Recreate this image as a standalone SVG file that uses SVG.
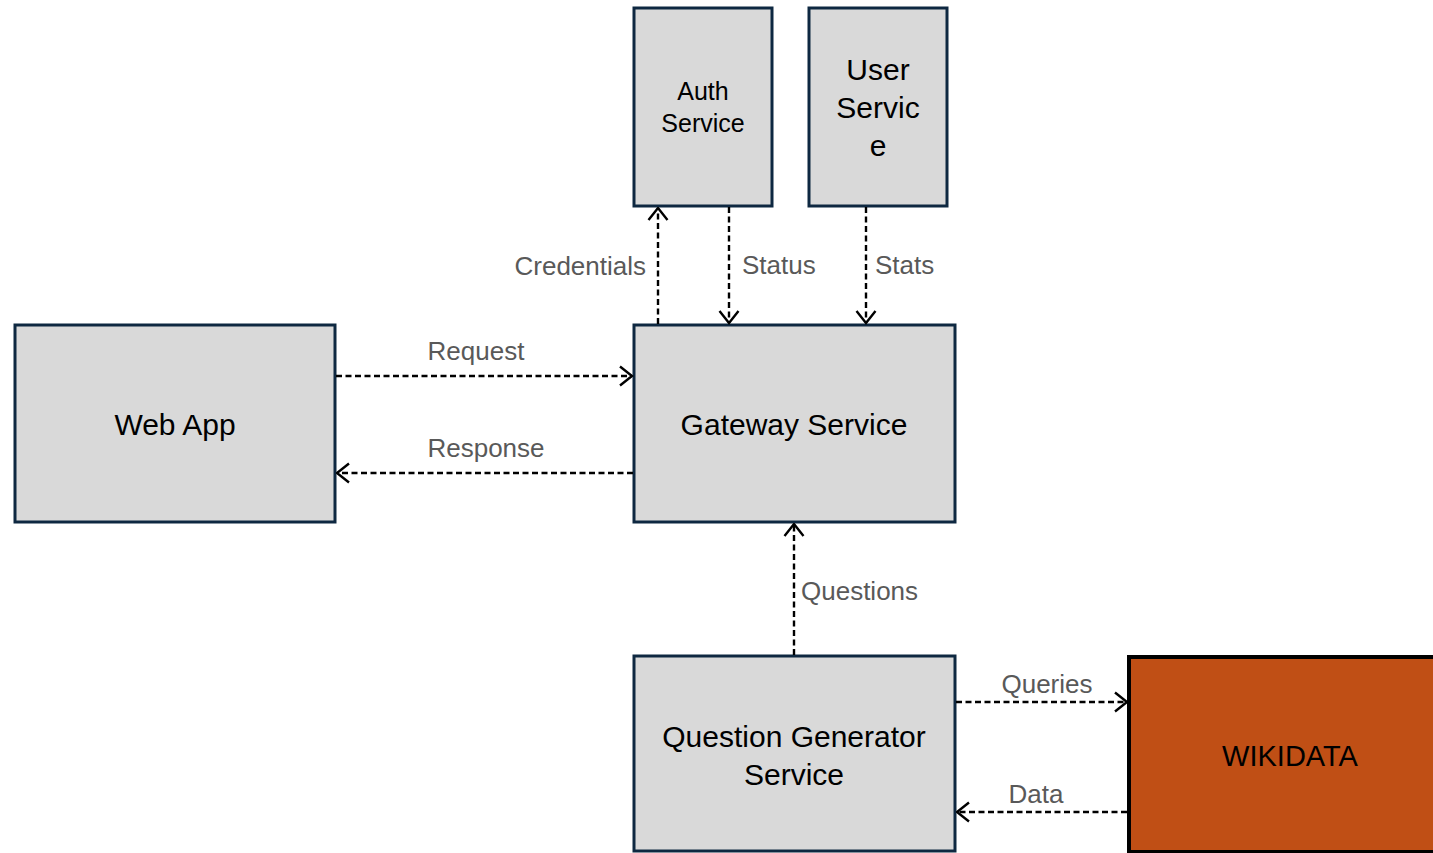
<svg xmlns="http://www.w3.org/2000/svg" width="1433" height="853" viewBox="0 0 1433 853">
<defs>
<style>
.box{fill:#d9d9d9;stroke:#0e2841;stroke-width:3}
.wk{fill:#c04f15;stroke:#000;stroke-width:4}
.t{font-family:"Liberation Sans",Arial,sans-serif;fill:#000;text-anchor:middle}
.lbl{font-family:"Liberation Sans",Arial,sans-serif;fill:#595959;font-size:26px}
.c{fill:none;stroke:#000;stroke-width:2.4;stroke-dasharray:6 3.5}
</style>
<marker id="ah" viewBox="0 0 15 22" refX="13.5" refY="11" markerWidth="15" markerHeight="22" markerUnits="userSpaceOnUse" orient="auto">
<path d="M1.5,1.5 L13.5,11 L1.5,20.5" fill="none" stroke="#000" stroke-width="2.4"/>
</marker>
</defs>
<rect width="1433" height="853" fill="#fff"/>
<g id="auth"><rect class="box" x="634" y="8" width="138" height="198"/><text class="t" font-size="25" x="703" y="100">Auth</text><text class="t" font-size="25" x="703" y="132">Service</text></g>
<g id="user"><rect class="box" x="809" y="8" width="138" height="198"/><text class="t" font-size="30" x="878" y="80">User</text><text class="t" font-size="30" x="878" y="118">Servic</text><text class="t" font-size="30" x="878" y="156">e</text></g>
<g id="webapp"><rect class="box" x="15" y="325" width="320" height="197"/><text class="t" font-size="30" x="175" y="435">Web App</text></g>
<g id="gateway"><rect class="box" x="634" y="325" width="321" height="197"/><text class="t" font-size="30" x="794" y="435">Gateway Service</text></g>
<g id="qgs"><rect class="box" x="634" y="656" width="321" height="195"/><text class="t" font-size="30" x="794" y="747">Question Generator</text><text class="t" font-size="30" x="794" y="785">Service</text></g>
<g id="wikidata"><rect class="wk" x="1129" y="657" width="310" height="195"/><text class="t" font-size="29" x="1290" y="766">WIKIDATA</text></g>
<g id="connectors">
<path class="c" d="M658,324 V208" marker-end="url(#ah)"/>
<path class="c" d="M729,207 V323" marker-end="url(#ah)"/>
<path class="c" d="M866,207 V323" marker-end="url(#ah)"/>
<path class="c" d="M336,376 H632" marker-end="url(#ah)"/>
<path class="c" d="M633,473 H337" marker-end="url(#ah)"/>
<path class="c" d="M794,655 V524" marker-end="url(#ah)"/>
<path class="c" d="M956,702 H1127" marker-end="url(#ah)"/>
<path class="c" d="M1127,812 H957" marker-end="url(#ah)"/>
<text class="lbl" x="646" y="275" text-anchor="end">Credentials</text>
<text class="lbl" x="742" y="274">Status</text>
<text class="lbl" x="875" y="274">Stats</text>
<text class="lbl" x="476" y="360" text-anchor="middle">Request</text>
<text class="lbl" x="486" y="457" text-anchor="middle">Response</text>
<text class="lbl" x="801" y="600">Questions</text>
<text class="lbl" x="1047" y="693" text-anchor="middle">Queries</text>
<text class="lbl" x="1036" y="803" text-anchor="middle">Data</text>
</g>
</svg>
